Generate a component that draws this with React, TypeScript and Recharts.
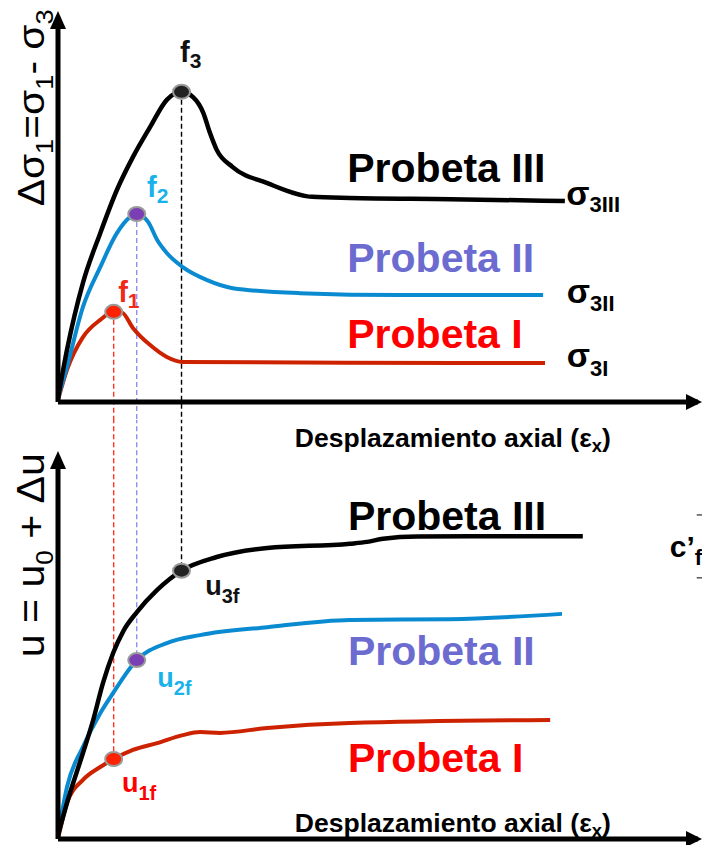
import React from 'react';
import { LineChart, Line, XAxis, YAxis, ReferenceLine, ReferenceDot } from 'recharts';

// ---------- data (axial strain e vs. value) ----------
const stressIII = [[0, 1], [1.4, 13.6], [3.9, 31.2], [6.6, 44.2], [9.2, 55.5], [11.7, 64.1], [14.4, 72.0], [17.0, 79.1], [19.3, 81.2], [21.1, 79.8], [22.7, 75.7], [23.75, 70.4], [24.8, 66.0], [27.3, 61.5], [32.7, 57.3], [39.7, 53.7], [45.6, 53.4], [61.25, 53.1], [79.2, 52.6]];
const stressII = [[0, 1], [1.4, 9.2], [3.9, 24.9], [6.6, 35.3], [9.2, 44.2], [11.25, 48.4], [12.3, 49.2], [14.1, 47.1], [15.5, 42.4], [17.0, 39.0], [19.5, 35.3], [23.3, 31.9], [27.3, 29.8], [37.8, 28.5], [53.4, 28.0], [75.8, 28.0]];
const stressI = [[0, 0.5], [1.4, 8.4], [3.9, 17.0], [6.6, 21.5], [8.7, 23.6], [10.0, 23.4], [11.7, 19.4], [14.4, 14.9], [17.0, 11.8], [19.4, 10.5], [45.0, 10.3], [76.1, 10.2]];

const poreIII = [[0, 1], [1.4, 9.5], [3.9, 22.7], [5.5, 31.4], [7.0, 41.0], [8.6, 49.0], [10.25, 55.0], [12.3, 59.8], [15.5, 65.7], [19.3, 70.8], [24.8, 74.4], [32.7, 76.8], [45.6, 77.9], [48.3, 78.4], [50.8, 79.2], [56.1, 79.8], [82.0, 79.9]];
const poreII = [[0, 1], [1.4, 13.7], [3.9, 24.3], [6.6, 33.2], [8.6, 38.5], [12.3, 47.2], [17.0, 51.7], [22.2, 53.8], [32.7, 55.9], [45.6, 57.8], [61.25, 58.0], [78.75, 59.4]];
const poreI = [[0, 0], [1.4, 9.5], [3.9, 15.6], [6.6, 19.0], [8.7, 21.1], [11.7, 23.5], [15.5, 25.3], [19.5, 27.4], [22.2, 28.2], [25.3, 28.0], [32.7, 29.3], [45.6, 30.6], [76.9, 31.4]];

const failStrain = [8.7, 12.3, 19.3];
const peakStress = [23.6, 49.2, 81.2];
const failPore = [21.1, 47.2, 70.8];

const specimenNames = ['Probeta I', 'Probeta II', 'Probeta III'];
const xLabel = 'Desplazamiento axial (ε';

const toPts = (arr: number[][]) => arr.map(([e, v]) => ({ e, v }));

const FONT = '"Liberation Sans", Arial, Helvetica, sans-serif';
const curveColors = ['#cc2200', '#0a8ad0', '#000000'];
const nameColors = ['#ff0000', '#6b6bd0', '#000000'];
const fColors = ['#f02a18', '#1ab2ea', '#111111'];
const markerFill = ['#ff2200', '#7b3fb5', '#222222'];
const dashColors = ['#ff3322', '#8f8fef', '#000000'];

const mark = (key: string, x: number, y: number, render: (cx: number, cy: number) => React.ReactElement) => (
  <ReferenceDot key={key} x={x} y={y} r={0} ifOverflow="visible" fill="none" stroke="none"
    shape={(p: any) => render(p.cx, p.cy)} />
);

const subText = (key: string, x: number, y: number, main: string, sub: string, size: number, subSize: number, dy: number, color: string) =>
  mark(key, x, y, (cx, cy) => (
    <text x={cx} y={cy} fill={color} fontSize={size} fontWeight="bold" fontFamily={FONT}>
      {main}
      <tspan fontSize={subSize} dy={dy}>{sub}</tspan>
    </text>
  ));

const bigText = (key: string, x: number, y: number, s: string, color: string) =>
  mark(key, x, y, (cx, cy) => (
    <text x={cx} y={cy} fill={color} fontSize={41} fontWeight="bold" fontFamily={FONT}>{s}</text>
  ));

const axisLabel = (key: string, x: number, y: number) =>
  mark(key, x, y, (cx, cy) => (
    <text x={cx} y={cy} fill="#000" fontSize={26} fontWeight="bold" fontFamily={FONT} textLength={316} lengthAdjust="spacingAndGlyphs">
      {xLabel}
      <tspan fontSize={18} dy={5}>x</tspan>
      <tspan dy={-5}>)</tspan>
    </text>
  ));

const arrowUp = (key: string, x: number, y: number) =>
  mark(key, x, y, (cx, cy) => (
    <polygon points={`${cx},${cy - 9} ${cx - 8},${cy + 9} ${cx + 8},${cy + 9}`} fill="#000" />
  ));
const arrowRight = (key: string, x: number, y: number) =>
  mark(key, x, y, (cx, cy) => (
    <polygon points={`${cx + 4},${cy} ${cx - 12},${cy - 8} ${cx - 12},${cy + 8}`} fill="#000" />
  ));

const marker = (key: string, x: number, y: number, fill: string) =>
  mark(key, x, y, (cx, cy) => (
    <ellipse cx={cx} cy={cy} rx={8.5} ry={7} fill={fill} stroke="#9a9a9a" strokeWidth={2} />
  ));

const axisProps = {
  tick: false as const,
  tickLine: false as const,
  axisLine: { stroke: '#000', strokeWidth: 5 },
};

const TopChart = () => (
  <LineChart width={702} height={460} margin={{ top: 20, right: 4, bottom: 0, left: 0 }}>
    <XAxis type="number" dataKey="e" domain={[0, 100]} allowDataOverflow height={58} {...axisProps} />
    <YAxis type="number" dataKey="v" domain={[0, 100]} allowDataOverflow width={58} {...axisProps} />
    {failStrain.map((fx, i) => (
      <ReferenceLine key={`d${i}`} segment={[{ x: fx, y: peakStress[i] }, { x: fx, y: -4.8 }]}
        stroke={dashColors[i]} strokeWidth={1.4} strokeDasharray="5 3" ifOverflow="visible" />
    ))}
    <Line data={toPts(stressI)} dataKey="v" type="monotone" stroke={curveColors[0]} strokeWidth={4} dot={false} activeDot={false} isAnimationActive={false} />
    <Line data={toPts(stressII)} dataKey="v" type="monotone" stroke={curveColors[1]} strokeWidth={4} dot={false} activeDot={false} isAnimationActive={false} />
    <Line data={toPts(stressIII)} dataKey="v" type="monotone" stroke={curveColors[2]} strokeWidth={4.5} dot={false} activeDot={false} isAnimationActive={false} />
    {failStrain.map((fx, i) => marker(`m${i}`, fx, peakStress[i], markerFill[i]))}
    {arrowUp('ay', 0, 100)}
    {arrowRight('ax', 100, 0)}
    {subText('f3', 19.06, 89.0, 'f', '3', 29, 21, 6, fColors[2])}
    {subText('f2', 13.9, 53.7, 'f', '2', 29, 21, 6, fColors[1])}
    {subText('f1', 9.4, 26.2, 'f', '1', 29, 21, 6, fColors[0])}
    {bigText('p3', 45.2, 57.6, specimenNames[2], nameColors[2])}
    {bigText('p2', 45.2, 34.0, specimenNames[1], nameColors[1])}
    {bigText('p1', 45.2, 14.1, specimenNames[0], nameColors[0])}
    {subText('s3', 79.4, 51.6, 'σ', '3III', 34, 22, 7, '#000')}
    {subText('s2', 79.5, 25.9, 'σ', '3II', 34, 22, 8, '#000')}
    {subText('s1', 79.5, 9.2, 'σ', '3I', 34, 22, 9, '#000')}
    {axisLabel('xl', 37.0, -11.8)}
    {mark('yl', -2.2, 77.0, (cx, cy) => (
      <text x={cx} y={cy} transform={`rotate(-90 ${cx} ${cy})`} textAnchor="middle" fill="#000" fontSize={36} fontFamily={FONT}
        textLength={197} lengthAdjust="spacingAndGlyphs">
        Δσ<tspan fontSize={24} dy={9}>1</tspan><tspan dy={-9}>=σ</tspan><tspan fontSize={24} dy={9}>1</tspan><tspan dy={-9}>- σ</tspan><tspan fontSize={24} dy={9}>3</tspan>
      </text>
    ))}
  </LineChart>
);

const BottomChart = () => (
  <LineChart width={702} height={425} margin={{ top: 40, right: 4, bottom: 0, left: 0 }}>
    <XAxis type="number" dataKey="e" domain={[0, 100]} allowDataOverflow height={6} {...axisProps} />
    <YAxis type="number" dataKey="v" domain={[0, 100]} allowDataOverflow width={58} {...axisProps} />
    {failStrain.map((fx, i) => (
      <ReferenceLine key={`d${i}`} segment={[{ x: fx, y: 111 }, { x: fx, y: failPore[i] }]}
        stroke={dashColors[i]} strokeWidth={1.4} strokeDasharray="5 3" ifOverflow="visible" />
    ))}
    <ReferenceLine segment={[{ x: 99.8, y: 85.5 }, { x: 101, y: 85.5 }]} stroke="#000" strokeWidth={1} ifOverflow="visible" />
    <ReferenceLine segment={[{ x: 99.8, y: 68.9 }, { x: 101, y: 68.9 }]} stroke="#000" strokeWidth={1} ifOverflow="visible" />
    <Line data={toPts(poreI)} dataKey="v" type="monotone" stroke={curveColors[0]} strokeWidth={4} dot={false} activeDot={false} isAnimationActive={false} />
    <Line data={toPts(poreII)} dataKey="v" type="monotone" stroke={curveColors[1]} strokeWidth={4} dot={false} activeDot={false} isAnimationActive={false} />
    <Line data={toPts(poreIII)} dataKey="v" type="monotone" stroke={curveColors[2]} strokeWidth={4.5} dot={false} activeDot={false} isAnimationActive={false} />
    {failStrain.map((fx, i) => marker(`m${i}`, fx, failPore[i], markerFill[i]))}
    {arrowUp('ay', 0, 100)}
    {arrowRight('ax', 100, 0)}
    {bigText('p3', 45.3, 81.5, specimenNames[2], nameColors[2])}
    {bigText('p2', 45.3, 45.9, specimenNames[1], nameColors[1])}
    {bigText('p1', 45.3, 17.7, specimenNames[0], nameColors[0])}
    {subText('u3', 23.0, 64.4, 'u', '3f', 27, 20, 8, fColors[2])}
    {subText('u2', 15.5, 40.1, 'u', '2f', 27, 20, 8, fColors[1])}
    {subText('u1', 10.0, 12.4, 'u', '1f', 27, 20, 8, '#ff0000')}
    {subText('cf', 95.6, 74.4, 'c’', 'f', 30, 22, 8, '#000')}
    {axisLabel('xl', 37.0, 1.8)}
    {mark('yl', -2.2, 74.9, (cx, cy) => (
      <text x={cx} y={cy} transform={`rotate(-90 ${cx} ${cy})`} textAnchor="middle" fill="#000" fontSize={38} fontFamily={FONT}
        textLength={204} lengthAdjust="spacingAndGlyphs">
        u = u<tspan fontSize={24} dy={9}>0</tspan><tspan dy={-9}> + Δu</tspan>
      </text>
    ))}
  </LineChart>
);

export default function App() {
  return (
    <div style={{ position: 'absolute', left: 0, top: 0, width: 702, height: 845, background: '#fff', overflow: 'hidden' }}>
      <div style={{ position: 'absolute', left: 0, top: 0 }}>
        <TopChart />
      </div>
      <div style={{ position: 'absolute', left: 0, top: 420 }}>
        <BottomChart />
      </div>
    </div>
  );
}
